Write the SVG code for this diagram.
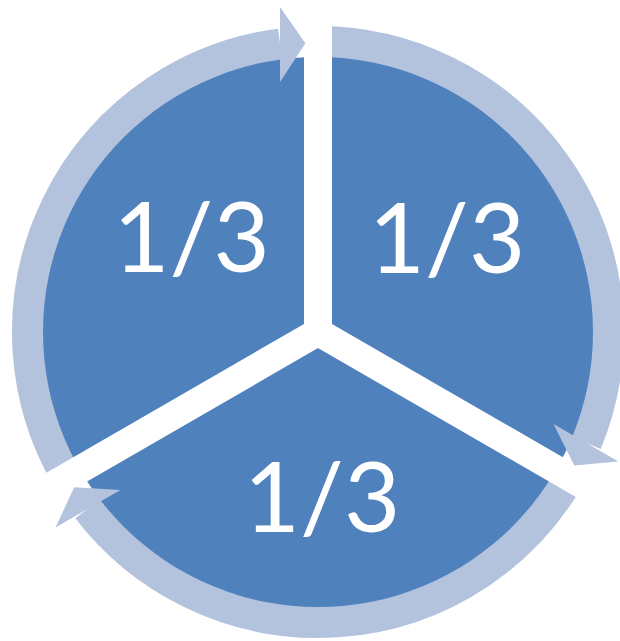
<svg xmlns="http://www.w3.org/2000/svg" xmlns:xlink="http://www.w3.org/1999/xlink" width="620" height="641" viewBox="0 0 620 641">
  <style>
    .shaft { fill: none; stroke: #B3C2DD; stroke-width: 34; }
    .head { fill: #B3C2DD; stroke: none; }
    .pie { fill: #4F81BD; }
    .gap { stroke: #FFFFFF; stroke-width: 28; stroke-linecap: butt; }
    .lbl { font-family: Lato, "Open Sans", "Liberation Sans", sans-serif; font-size: 97px; fill: #FFFFFF; text-anchor: middle; }
  </style>
  <defs>
    <path id="shaftArc" class="shaft" d="M67.7,476.5 A289,289 0 0 1 280.3,45.5"/>
    <polygon id="arrowHead" class="head" points="280,82 280,7 305.4,43.3"/>
  </defs>
  <rect x="0" y="0" width="620" height="641" fill="#FFFFFF"/>
  <g id="connectors">
    <use xlink:href="#shaftArc" href="#shaftArc"/>
    <use xlink:href="#shaftArc" href="#shaftArc" transform="rotate(120 318 332)"/>
    <use xlink:href="#shaftArc" href="#shaftArc" transform="rotate(240 318 332)"/>
  </g>
  <g id="pie">
    <circle class="pie" cx="318" cy="332" r="275"/>
  </g>
  <g id="dividers">
    <line class="gap" x1="318" y1="332" x2="318" y2="0"/>
    <line class="gap" x1="318" y1="332" x2="615.9" y2="504"/>
    <line class="gap" x1="318" y1="332" x2="20.1" y2="504"/>
  </g>
  <g id="arrowheads">
    <use xlink:href="#arrowHead" href="#arrowHead"/>
    <use xlink:href="#arrowHead" href="#arrowHead" transform="rotate(120 318 332)"/>
    <use xlink:href="#arrowHead" href="#arrowHead" transform="rotate(240 318 332)"/>
  </g>
  <g id="segment-left">
    <text class="lbl" x="191.5" y="272">1/3</text>
  </g>
  <g id="segment-right">
    <text class="lbl" x="447" y="273">1/3</text>
  </g>
  <g id="segment-bottom">
    <text class="lbl" x="322" y="532">1/3</text>
  </g>
</svg>
